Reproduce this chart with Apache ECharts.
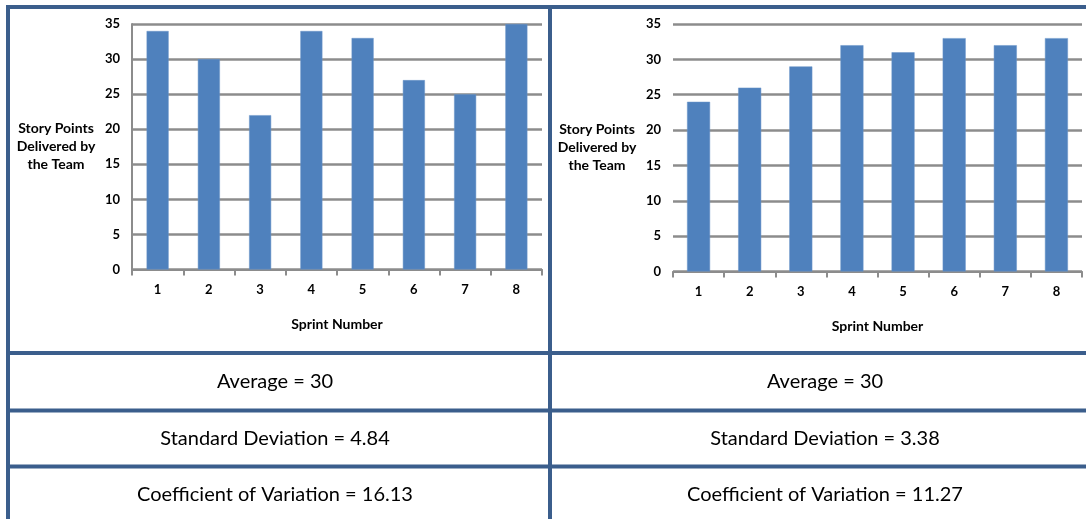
<!DOCTYPE html>
<html>
<head>
<meta charset="utf-8">
<script src="https://cdn.jsdelivr.net/npm/echarts@6/dist/echarts.min.js"></script>
<style>
html,body{margin:0;padding:0;background:#fff;}
#c{width:1086px;height:519px;}
</style>
</head>
<body>
<div id="c"></div>
<script>
var sprints = ['1','2','3','4','5','6','7','8'];
var teamA = [34, 30, 22, 34, 33, 27, 25, 35];
var teamB = [24, 26, 29, 32, 31, 33, 32, 33];
var yTicks = [0, 5, 10, 15, 20, 25, 30, 35];
var statsA = ['Average = 30', 'Standard Deviation = 4.84', 'Coefficient of Variation = 16.13'];
var statsB = ['Average = 30', 'Standard Deviation = 3.38', 'Coefficient of Variation = 11.27'];
var yName = 'Story Points\nDelivered by\nthe Team';
var xName = 'Sprint Number';

var chart = echarts.init(document.getElementById('c'));
var gray = '#8c8c8c';
var border = '#3b5e8c';
var labFont = {fontFamily: 'Lato', fontWeight: 'bold', fontSize: 13, color: '#000'};
var nameFont = {fontFamily: 'Lato', fontWeight: 'bold', fontSize: 14, color: '#000'};

function xAx(gi) {
  return {
    type: 'category', gridIndex: gi, data: sprints,
    axisLine: {lineStyle: {color: gray, width: 2}},
    axisTick: {show: true, length: 6, lineStyle: {color: gray, width: 2}},
    axisLabel: Object.assign({margin: 14}, labFont),
    name: xName, nameLocation: 'middle', nameGap: 48,
    nameTextStyle: nameFont
  };
}
function yAx(gi, showLine) {
  return {
    type: 'value', gridIndex: gi, min: yTicks[0], max: yTicks[yTicks.length - 1], interval: 5,
    axisLine: {show: showLine, lineStyle: {color: gray, width: 2}},
    axisTick: {show: false},
    axisLabel: Object.assign({margin: 12}, labFont),
    splitLine: {lineStyle: {color: gray, width: 2.5}},
    name: yName, nameLocation: 'middle', nameRotate: 0, nameGap: 76,
    nameTextStyle: Object.assign({align: 'center', verticalAlign: 'middle', lineHeight: 18}, nameFont)
  };
}

var graphics = [];
function line(x1, y1, x2, y2) {
  graphics.push({type: 'line', shape: {x1: x1, y1: y1, x2: x2, y2: y2},
    style: {stroke: border, lineWidth: 4}, z: 100});
}
line(6, 7, 1086, 7);
line(8, 5, 8, 519);
line(550, 5, 550, 519);
line(8, 353, 1086, 353);
line(8, 410.5, 1086, 410.5);
line(8, 466.5, 1086, 466.5);

var rowY = [382, 438.5, 495];
function txt(x, y, s) {
  graphics.push({type: 'text', x: x, y: y, z: 100,
    style: {text: s, fontFamily: 'Lato', fontSize: 20, fill: '#000', align: 'center', verticalAlign: 'middle'}});
}
for (var i = 0; i < 3; i++) {
  txt(275, rowY[i], statsA[i]);
  txt(825, rowY[i], statsB[i]);
}

chart.setOption({
  animation: false,
  grid: [
    {left: 132, right: 544, top: 24, bottom: 249.5},
    {left: 673, right: 4, top: 24, bottom: 247.5}
  ],
  xAxis: [xAx(0), xAx(1)],
  yAxis: [yAx(0, true), yAx(1, false)],
  series: [
    {type: 'bar', xAxisIndex: 0, yAxisIndex: 0, data: teamA, barWidth: '43%',
     itemStyle: {color: '#4f81bd', borderColor: '#6a95c8', borderWidth: 0.5}},
    {type: 'bar', xAxisIndex: 1, yAxisIndex: 1, data: teamB, barWidth: '45%',
     itemStyle: {color: '#4f81bd', borderColor: '#6a95c8', borderWidth: 0.5}}
  ],
  graphic: graphics
});
</script>
</body>
</html>
